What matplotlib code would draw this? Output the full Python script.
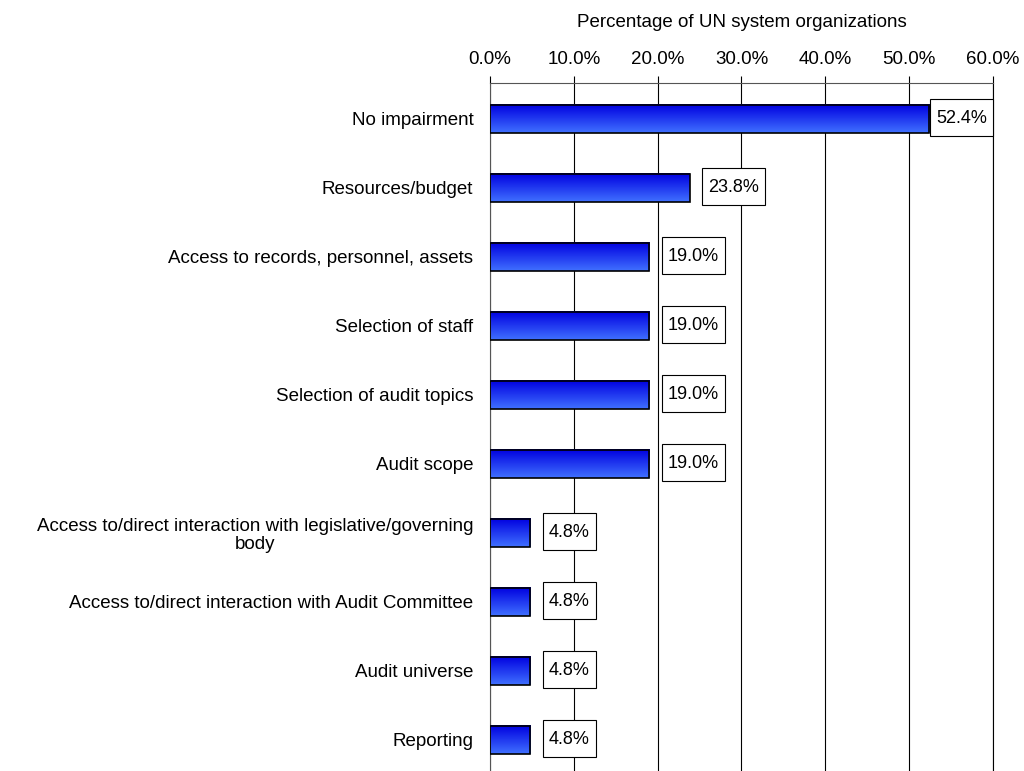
import matplotlib.pyplot as plt
import numpy as np
from matplotlib.colors import LinearSegmentedColormap
from matplotlib.path import Path

plt.rcParams['font.family'] = ['Liberation Sans', 'DejaVu Sans']

# data
categories = ['No impairment', 'Resources/budget', 'Access to records, personnel, assets',
              'Selection of staff', 'Selection of audit topics', 'Audit scope',
              'Access to/direct interaction with legislative/governing\nbody',
              'Access to/direct interaction with Audit Committee',
              'Audit universe', 'Reporting']
values = [52.4, 23.8, 19.0, 19.0, 19.0, 19.0, 4.8, 4.8, 4.8, 4.8]
xticks = [0, 10, 20, 30, 40, 50, 60]

fs = 13.5


# box with more padding top/bottom than left/right, like the data labels
def tallbox(x0, y0, width, height, mutation_size):
    px = 0.32 * mutation_size
    pb = 0.45 * mutation_size
    pt = 0.62 * mutation_size
    x1, y1 = x0 + width + px, y0 + height + pt
    x0, y0 = x0 - px, y0 - pb
    return Path([(x0, y0), (x1, y0), (x1, y1), (x0, y1), (x0, y0)], closed=True)


fig = plt.figure(figsize=(10.24, 7.71), dpi=100)
ax = fig.add_axes([0.4785, 0.0, 0.4912, 0.8923])

y = np.arange(len(categories))
h = 0.41
cmap = LinearSegmentedColormap.from_list('blu', ['#0000e0', '#4070ff'])
grad = np.linspace(0, 1, 64).reshape(-1, 1)

for yi, v in zip(y, values):
    ax.imshow(grad, cmap=cmap, aspect='auto', extent=(0, v, yi + h / 2, yi - h / 2),
              origin='upper', zorder=2)
    ax.add_patch(plt.Rectangle((0, yi - h / 2), v, h, fill=False, edgecolor='black',
                               linewidth=1.2, zorder=3))
    # label box, pulled in when it would run past the axis end
    off = 13.5 if v < 50 else 5
    ax.annotate('%.1f%%' % v, xy=(v, yi), xytext=(off, 0), textcoords='offset points',
                ha='left', va='center', fontsize=13, zorder=4,
                bbox=dict(boxstyle=tallbox, facecolor='white', edgecolor='black',
                          linewidth=0.8))

ax.set_xlim(0, 60)
ax.set_ylim(len(categories) - 1 + 0.45, -0.52)
ax.set_xticks(xticks)
ax.set_xticklabels(['%.1f%%' % t for t in xticks], fontsize=fs)
ax.xaxis.tick_top()
ax.xaxis.set_label_position('top')
ax.tick_params(axis='x', direction='out', length=5, pad=6, width=0.8)
ax.set_xlabel('Percentage of UN system organizations', fontsize=fs, labelpad=17)
ax.set_yticks(y)
ax.set_yticklabels(categories, fontsize=fs, multialignment='center', linespacing=1.05)
ax.tick_params(axis='y', length=0, pad=12)
ax.grid(axis='x', color='black', linewidth=0.8, zorder=0)
ax.set_axisbelow(True)
ax.spines['bottom'].set_visible(False)
ax.spines['right'].set_color('black')
ax.spines['left'].set_color('#555555')
ax.spines['top'].set_color('#555555')

fig.savefig('out.png', dpi=100)
